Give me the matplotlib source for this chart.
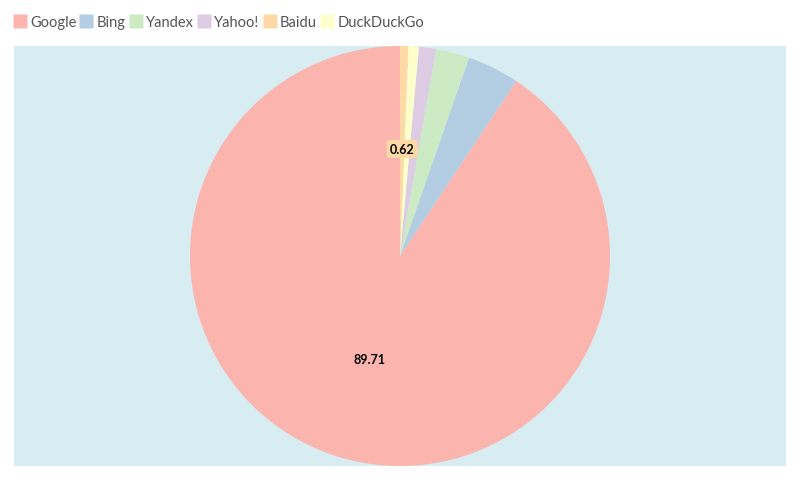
import matplotlib.pyplot as plt
from matplotlib.lines import Line2D
import numpy as np

plt.rcParams['font.family'] = ['Lato', 'DejaVu Sans']

# search engine market share
engines = ["Google", "Bing", "Yandex", "Yahoo!", "Baidu", "DuckDuckGo"]
share = [89.71, 3.96, 2.56, 1.29, 0.62, 0.80]
colors = ["#fbb4ae", "#b3cde3", "#ccebc5", "#decbe4", "#fed9a6", "#ffffcc"]
shown_labels = ["Google", "Baidu"]

# drawing order around the pie (counter-clockwise from the top)
pie_order = ["Google", "Bing", "Yandex", "Yahoo!", "DuckDuckGo", "Baidu"]
idx = [engines.index(e) for e in pie_order]
vals = [share[i] for i in idx]
cols = [colors[i] for i in idx]

fig = plt.figure(figsize=(8, 4.81), dpi=100)
ax = fig.add_axes([14 / 800, 14 / 481, 772 / 800, 420 / 481])

wedges, _ = ax.pie(vals, colors=cols, startangle=90, counterclock=True,
                   radius=1.0, frame=True, wedgeprops=dict(linewidth=0))
ax.set_facecolor("#d8edf2")

for w, name, c in zip(wedges, pie_order, cols):
    if name not in shown_labels:
        continue
    mid = np.deg2rad((w.theta1 + w.theta2) / 2)
    v = share[engines.index(name)]
    ax.text(0.51 * np.cos(mid), 0.51 * np.sin(mid), f"{v:.2f}",
            ha="center", va="center", fontsize=9, fontweight="bold",
            color="black",
            bbox=dict(boxstyle="round,pad=0.25", fc=c, ec="none"))

ax.set_xlim(-772 / 420, 772 / 420)
ax.set_ylim(-1, 1)
ax.set_aspect("equal")
ax.set_xticks([])
ax.set_yticks([])
for s in ax.spines.values():
    s.set_visible(False)

handles = [Line2D([], [], marker="s", linestyle="none", markersize=9.5,
                  markerfacecolor=c, markeredgecolor="none") for c in colors]
fig.legend(handles, engines, loc="upper left", bbox_to_anchor=(0.0, 0.993),
           ncol=6, frameon=False, fontsize=10.5, handletextpad=0.25,
           columnspacing=0.25, handlelength=0.9, labelcolor="#555555")

fig.savefig("out.png", dpi=100)
